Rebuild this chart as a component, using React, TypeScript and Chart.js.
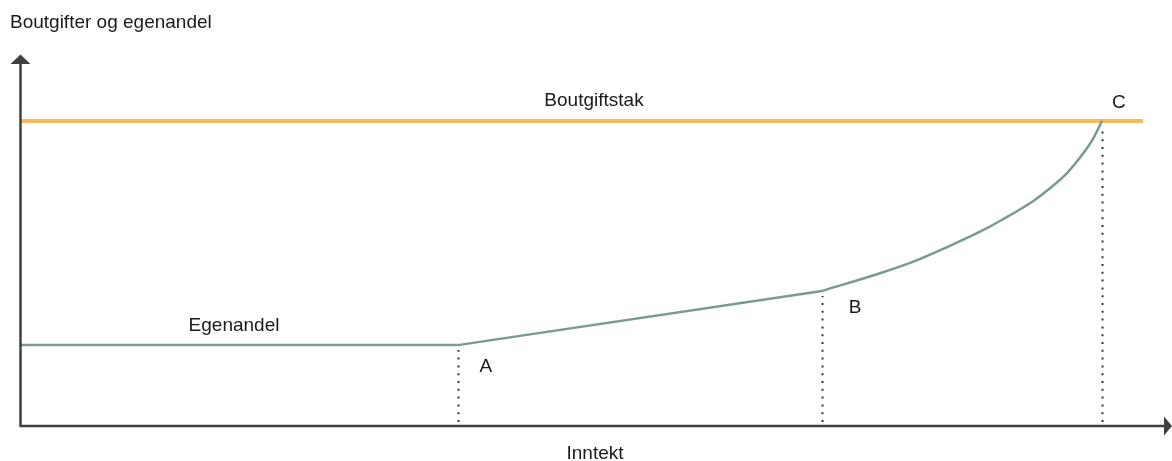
import React, { useEffect, useRef } from "react";
import { Chart, registerables } from "chart.js";

Chart.register(...registerables);

// Income (x) and housing cost / own share (y), arbitrary units 0..100
const capLevel = 82.2; // Boutgiftstak
const capEndX = 98.5;
const flatX = [0, 38.4];
const flatY = [21.8, 21.8];
const rampX = [38.4, 70.35];
const rampY = [21.8, 36.4];
const curveX = [70.35, 75.44, 78.36, 81.29, 84.21, 85.96, 88.89, 90.35, 91.82, 93.27, 94.15, 94.9];
const curveY = [36.4, 41.16, 44.29, 48.17, 52.37, 55.26, 60.65, 64.07, 68.11, 73.5, 77.55, 82.2];
const markerNames = ["A", "B", "C"];
const markerX = [38.4, 70.35, 94.9];
const markerY = [21.8, 36.4, 82.2];

const yTitle = "Boutgifter og egenandel";
const xTitle = "Inntekt";
const capLabel = "Boutgiftstak";
const shareLabel = "Egenandel";

const GREEN = "rgb(122,155,140)";
const ORANGE = "rgb(246,186,92)";
const AXIS = "#404040";
const TEXT = "#1a1a1a";
const FONT = '19px "Liberation Sans", Arial, sans-serif';

export default function App() {
  const ref = useRef<HTMLCanvasElement | null>(null);

  useEffect(() => {
    const canvas = ref.current;
    if (!canvas) return;

    const decor = {
      id: "decor",
      beforeDatasetsDraw(chart: any) {
        const { ctx, chartArea, scales } = chart;
        const xs = scales.x;
        const ys = scales.y;
        const bottom = chartArea.bottom;
        ctx.save();
        // dotted guides
        ctx.strokeStyle = "#333";
        ctx.lineWidth = 2;
        ctx.setLineDash([2, 5.8]);
        markerX.forEach((mx, i) => {
          const px = Math.round(xs.getPixelForValue(mx)) + 0.5;
          const py = ys.getPixelForValue(markerY[i]);
          ctx.beginPath();
          ctx.moveTo(px, bottom - 4);
          ctx.lineTo(px, py + 5);
          ctx.stroke();
        });
        ctx.setLineDash([]);
        ctx.restore();
      },
      afterDatasetsDraw(chart: any) {
        const { ctx, chartArea, scales } = chart;
        const xs = scales.x;
        const ys = scales.y;
        const left = chartArea.left + 0.5;
        const bottom = chartArea.bottom;
        ctx.save();
        // axes
        ctx.strokeStyle = AXIS;
        ctx.fillStyle = AXIS;
        ctx.lineWidth = 2.5;
        ctx.beginPath();
        ctx.moveTo(left, bottom + 1);
        ctx.lineTo(left, chartArea.top + 8);
        ctx.moveTo(left - 1, bottom);
        ctx.lineTo(1164, bottom);
        ctx.stroke();
        // y arrow
        ctx.beginPath();
        ctx.moveTo(left, chartArea.top - 0.5);
        ctx.lineTo(left - 10, chartArea.top + 9);
        ctx.lineTo(left + 10, chartArea.top + 9);
        ctx.closePath();
        ctx.fill();
        // x arrow
        ctx.beginPath();
        ctx.moveTo(1172, bottom);
        ctx.lineTo(1164, bottom - 9.5);
        ctx.lineTo(1164, bottom + 9.5);
        ctx.closePath();
        ctx.fill();

        // texts
        ctx.fillStyle = TEXT;
        ctx.font = FONT;
        ctx.textBaseline = "alphabetic";
        ctx.textAlign = "left";
        ctx.fillText(yTitle, 10, 28);
        ctx.textAlign = "center";
        ctx.fillText(xTitle, 595, 459);
        const capY = ys.getPixelForValue(capLevel);
        ctx.fillText(capLabel, 594, capY - 15);
        ctx.fillText(shareLabel, 234, ys.getPixelForValue(flatY[0]) - 14);
        const offs = [
          [28, 27],
          [33, 22],
          [17, -13],
        ];
        markerNames.forEach((n, i) => {
          const px = xs.getPixelForValue(markerX[i]);
          const py = ys.getPixelForValue(markerY[i]);
          ctx.fillText(n, px + offs[i][0], py + offs[i][1]);
        });
        ctx.restore();
      },
    };

    const chart = new Chart(canvas, {
      type: "line",
      data: {
        datasets: [
          {
            data: flatX.map((x, i) => ({ x, y: flatY[i] })),
            borderColor: GREEN,
            borderWidth: 2.5,
            pointRadius: 0,
            tension: 0,
          },
          {
            data: rampX.map((x, i) => ({ x, y: rampY[i] })),
            borderColor: GREEN,
            borderWidth: 2.5,
            pointRadius: 0,
            tension: 0,
          },
          {
            data: curveX.map((x, i) => ({ x, y: curveY[i] })),
            borderColor: GREEN,
            borderWidth: 2.5,
            pointRadius: 0,
            cubicInterpolationMode: "monotone",
          },
          {
            data: [
              { x: 0, y: capLevel },
              { x: capEndX, y: capLevel },
            ],
            borderColor: ORANGE,
            borderWidth: 4,
            pointRadius: 0,
            tension: 0,
          },
        ] as any,
      },
      options: {
        animation: false,
        responsive: false,
        devicePixelRatio: 1,
        layout: { padding: { left: 20, right: 12, top: 55, bottom: 35 } },
        plugins: { legend: { display: false }, tooltip: { enabled: false } },
        elements: { line: { borderCapStyle: "butt" } },
        scales: {
          x: { type: "linear", min: 0, max: 100, display: false },
          y: { type: "linear", min: 0, max: 100, display: false },
        },
      } as any,
      plugins: [decor],
    });
    return () => chart.destroy();
  }, []);

  return (
    <div style={{ position: "absolute", left: 0, top: 0, width: 1172, height: 461, background: "#fff" }}>
      <canvas ref={ref} width={1172} height={461} />
    </div>
  );
}
